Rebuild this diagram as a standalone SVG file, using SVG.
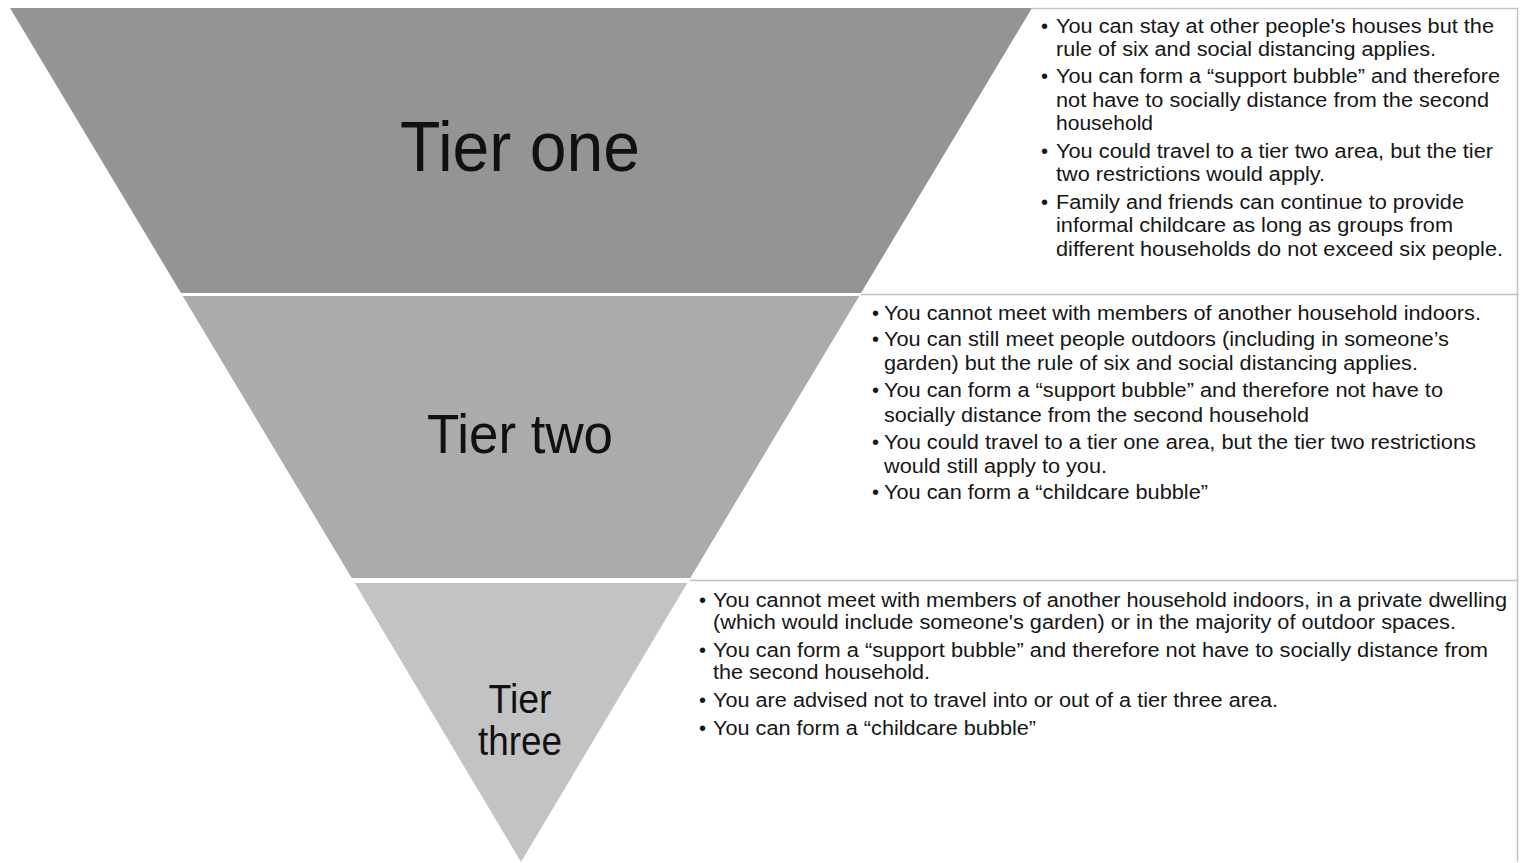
<svg xmlns="http://www.w3.org/2000/svg" width="1520" height="863" viewBox="0 0 1520 863">
<style>
.t{font-family:"Liberation Sans",Arial,sans-serif;font-size:20px;fill:#161616}
.h{font-family:"Liberation Sans",Arial,sans-serif;fill:#111}
.box{fill:none;stroke:#c2c2c2;stroke-width:1.5}
</style>
<rect width="1520" height="863" fill="#fff"/>
<g id="tier-one">
<polygon points="10,8 1032,8 861,293 181,293" fill="#949494"/>
<text class="h" x="520" y="171" font-size="70" text-anchor="middle" textLength="240" lengthAdjust="spacingAndGlyphs">Tier one</text>
<path class="box" d="M1032 8.5 H1517.5 V294.5 H861"/>
<text class="t" x="1041" y="33">•</text>
<text class="t" x="1056" y="33" textLength="438" lengthAdjust="spacingAndGlyphs">You can stay at other people's houses but the</text>
<text class="t" x="1056" y="56" textLength="380" lengthAdjust="spacingAndGlyphs">rule of six and social distancing applies.</text>
<text class="t" x="1041" y="83">•</text>
<text class="t" x="1056" y="83" textLength="444" lengthAdjust="spacingAndGlyphs">You can form a “support bubble” and therefore</text>
<text class="t" x="1056" y="107" textLength="433" lengthAdjust="spacingAndGlyphs">not have to socially distance from the second</text>
<text class="t" x="1056" y="130" textLength="97" lengthAdjust="spacingAndGlyphs">household</text>
<text class="t" x="1041" y="158">•</text>
<text class="t" x="1056" y="158" textLength="437" lengthAdjust="spacingAndGlyphs">You could travel to a tier two area, but the tier</text>
<text class="t" x="1056" y="181" textLength="269" lengthAdjust="spacingAndGlyphs">two restrictions would apply.</text>
<text class="t" x="1041" y="209">•</text>
<text class="t" x="1056" y="209" textLength="408" lengthAdjust="spacingAndGlyphs">Family and friends can continue to provide</text>
<text class="t" x="1056" y="232" textLength="397" lengthAdjust="spacingAndGlyphs">informal childcare as long as groups from</text>
<text class="t" x="1056" y="256" textLength="447" lengthAdjust="spacingAndGlyphs">different households do not exceed six people.</text>
</g>
<g id="tier-two">
<polygon points="182.7,296 859.3,296 690.3,578 351.7,578" fill="#ababab"/>
<text class="h" x="520" y="453" font-size="56" text-anchor="middle" textLength="186" lengthAdjust="spacingAndGlyphs">Tier two</text>
<path class="box" d="M1517.5 294.5 V580.5 H690"/>
<text class="t" x="872" y="320">•</text>
<text class="t" x="884" y="320" textLength="597" lengthAdjust="spacingAndGlyphs">You cannot meet with members of another household indoors.</text>
<text class="t" x="872" y="346">•</text>
<text class="t" x="884" y="346" textLength="565" lengthAdjust="spacingAndGlyphs">You can still meet people outdoors (including in someone’s</text>
<text class="t" x="884" y="370" textLength="534" lengthAdjust="spacingAndGlyphs">garden) but the rule of six and social distancing applies.</text>
<text class="t" x="872" y="397">•</text>
<text class="t" x="884" y="397" textLength="559" lengthAdjust="spacingAndGlyphs">You can form a “support bubble” and therefore not have to</text>
<text class="t" x="884" y="422" textLength="425" lengthAdjust="spacingAndGlyphs">socially distance from the second household</text>
<text class="t" x="872" y="449">•</text>
<text class="t" x="884" y="449" textLength="592" lengthAdjust="spacingAndGlyphs">You could travel to a tier one area, but the tier two restrictions</text>
<text class="t" x="884" y="473" textLength="223" lengthAdjust="spacingAndGlyphs">would still apply to you.</text>
<text class="t" x="872" y="499">•</text>
<text class="t" x="884" y="499" textLength="324" lengthAdjust="spacingAndGlyphs">You can form a “childcare bubble”</text>
</g>
<g id="tier-three">
<polygon points="354.7,583 687.3,583 521,862" fill="#c3c3c3"/>
<text class="h" x="520" y="713" font-size="40" text-anchor="middle" textLength="63" lengthAdjust="spacingAndGlyphs">Tier</text>
<text class="h" x="520" y="755" font-size="40" text-anchor="middle" textLength="84" lengthAdjust="spacingAndGlyphs">three</text>
<path class="box" d="M1517.5 580.5 V862"/>
<text class="t" x="699" y="607">•</text>
<text class="t" x="713" y="607" textLength="794" lengthAdjust="spacingAndGlyphs">You cannot meet with members of another household indoors, in a private dwelling</text>
<text class="t" x="713" y="629" textLength="743" lengthAdjust="spacingAndGlyphs">(which would include someone's garden) or in the majority of outdoor spaces.</text>
<text class="t" x="699" y="657">•</text>
<text class="t" x="713" y="657" textLength="775" lengthAdjust="spacingAndGlyphs">You can form a “support bubble” and therefore not have to socially distance from</text>
<text class="t" x="713" y="679" textLength="217" lengthAdjust="spacingAndGlyphs">the second household.</text>
<text class="t" x="699" y="707">•</text>
<text class="t" x="713" y="707" textLength="565" lengthAdjust="spacingAndGlyphs">You are advised not to travel into or out of a tier three area.</text>
<text class="t" x="699" y="735">•</text>
<text class="t" x="713" y="735" textLength="323" lengthAdjust="spacingAndGlyphs">You can form a “childcare bubble”</text>
</g>
<g id="connectors"/>
</svg>
